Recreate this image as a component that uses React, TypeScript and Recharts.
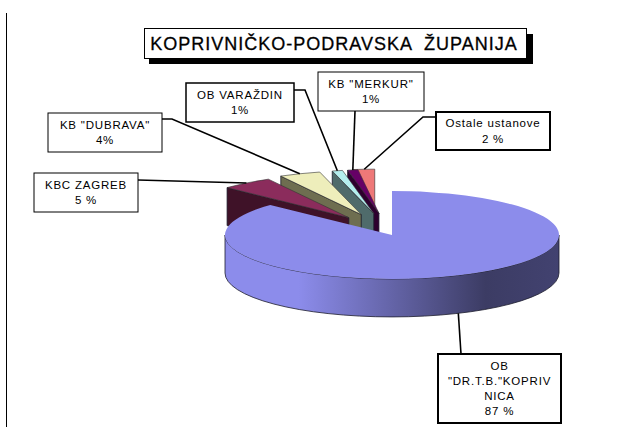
import { PieChart, Pie, Cell } from "recharts";

// counter-clockwise from 12 o'clock, so each slice covers the wall of the one before it
const categories = ["Ostale ustanove", 'KB "MERKUR"', "OB VARAŽDIN", 'KB "DUBRAVA"', "KBC ZAGREB", "OB DR.T.B. KOPRIVNICA"];
const shares = [2, 1, 1, 4, 5, 87];
const shareLabels = ["2 %", "1%", "1%", "4%", "5 %", "87 %"];
const labelLines = [
  ["Ostale ustanove"],
  ['KB "MERKUR"'],
  ["OB VARAŽDIN"],
  ['KB "DUBRAVA"'],
  ["KBC ZAGREB"],
  ["OB", '"DR.T.B."KOPRIV', "NICA"],
];

const TOP_COLORS = ["#ee7878", "#660066", "#b4eeee", "#eeeebb", "#8b2c5c", "#8c8ceb"];
const WALL_COLORS = ["#6b3333", "#2e002e", "#4f6b6b", "#6e6e50", "#3f1228", "url(#mainWall)"];

const TILT = 0.263;
const DEPTH = 38;
const EXPLODE = 0.5;
// the old picture's perspective doesn't quite follow a radial explode
const NUDGE_X = [-12, 0, 0, 0, 8, 0];

// where each callout box sits and how its leader leaves it
const BOXES = [
  { x: 436, y: 112, w: 114, h: 38, sw: 2, lead: [[436, 117], [423, 117]] },
  { x: 318, y: 72, w: 106, h: 39, sw: 1, lead: [[355, 111]] },
  { x: 186, y: 83, w: 108, h: 39, sw: 1.5, lead: [[294, 90], [305, 90]] },
  { x: 48, y: 113, w: 114, h: 39, sw: 1, lead: [[162, 119], [172, 119]] },
  { x: 34, y: 173, w: 104, h: 39, sw: 1, lead: [[138, 180]] },
  { x: 438, y: 354, w: 123, h: 69, sw: 2, lead: [[461, 354]] },
];

const rad = (a: number) => (a * Math.PI) / 180;

const apexOf = (p: any) => {
  const isMain = p.index === categories.length - 1;
  const e = isMain ? 0 : EXPLODE * p.outerRadius;
  return {
    x: p.cx + e * Math.cos(rad(p.midAngle)) + NUDGE_X[p.index],
    y: p.cy - e * TILT * Math.sin(rad(p.midAngle)),
  };
};

const rimPoint = (p: any, apex: { x: number; y: number }, angle: number) => ({
  x: apex.x + p.outerRadius * Math.cos(rad(angle)),
  y: apex.y - p.outerRadius * TILT * Math.sin(rad(angle)),
});

function Slice3D(p: any) {
  const isMain = p.index === categories.length - 1;
  const apex = apexOf(p);
  const rx = p.outerRadius;
  const ry = rx * TILT;
  const a = rimPoint(p, apex, p.startAngle);
  const b = rimPoint(p, apex, p.endAngle);
  const large = Math.abs(p.startAngle - p.endAngle) > 180 ? 1 : 0;
  const top = `M${apex.x},${apex.y} L${a.x},${a.y} A${rx},${ry} 0 ${large} 0 ${b.x},${b.y} Z`;

  let wall;
  if (isMain) {
    const right = rimPoint(p, apex, 0);
    const left = rimPoint(p, apex, 180);
    wall = `M${right.x},${right.y} A${rx},${ry} 0 0 1 ${left.x},${left.y} L${left.x},${left.y + DEPTH} A${rx},${ry} 0 0 0 ${right.x},${right.y + DEPTH} Z`;
  } else {
    wall = `M${b.x},${b.y} L${apex.x},${apex.y} L${apex.x},${apex.y + DEPTH} L${b.x},${b.y + DEPTH} Z`;
  }

  return (
    <g>
      <path d={wall} fill={WALL_COLORS[p.index]} stroke="#1c1c2c" strokeWidth={0.8} />
      <path d={top} fill={TOP_COLORS[p.index]} stroke={isMain ? "none" : "#333"} strokeWidth={isMain ? 0 : 0.6} />
    </g>
  );
}

function LeaderLine(p: any) {
  const isMain = p.index === categories.length - 1;
  const end = rimPoint(p, apexOf(p), p.midAngle);
  const pts = [...BOXES[p.index].lead, [end.x, end.y + (isMain ? DEPTH : 0)]];
  return <polyline points={pts.map((q) => q.join(",")).join(" ")} fill="none" stroke="#000" strokeWidth={1.6} />;
}

function CalloutBox(p: any) {
  const box = BOXES[p.index];
  const lines = [...labelLines[p.index], shareLabels[p.index]];
  const lineHeight = 15.3;
  const firstY = box.y + box.h / 2 - ((lines.length - 1) * lineHeight) / 2 + 4;
  return (
    <g>
      <rect x={box.x} y={box.y} width={box.w} height={box.h} fill="#fff" stroke="#000" strokeWidth={box.sw} />
      <text textAnchor="middle" fontFamily="Liberation Sans" fontSize={11.5} letterSpacing={0.8} fill="#000">
        {lines.map((line, i) => (
          <tspan key={i} x={box.x + box.w / 2} y={firstY + i * lineHeight}>
            {line}
          </tspan>
        ))}
      </text>
    </g>
  );
}

export default function App() {
  const data = categories.map((name, i) => ({ name, value: shares[i] }));

  return (
    <div style={{ position: "absolute", left: 0, top: 0, width: 620, height: 427 }}>
      <PieChart width={620} height={427} margin={{ top: 0, right: 0, bottom: 0, left: 0 }}>
        <defs>
          <linearGradient id="mainWall" x1="0" y1="0" x2="1" y2="0">
            <stop offset="0.22" stopColor="#8c8ceb" />
            <stop offset="0.78" stopColor="#3c3c64" />
            <stop offset="1" stopColor="#424270" />
          </linearGradient>
        </defs>
        <line x1={6.5} y1={13} x2={6.5} y2={427} stroke="#000" strokeWidth={1} />
        <rect x={149} y={34} width={384} height={30} fill="#000" />
        <rect x={144.5} y={28.5} width={382} height={30} fill="#fff" stroke="#000" strokeWidth={1} />
        <text
          x={334}
          y={50}
          textAnchor="middle"
          fontFamily="Liberation Sans"
          fontSize={18}
          letterSpacing={1}
          fill="#000"
          stroke="#000"
          strokeWidth={0.3}
          style={{ whiteSpace: "pre" }}
        >
          KOPRIVNIČKO-PODRAVSKA  ŽUPANIJA
        </text>
        <Pie
          data={data}
          dataKey="value"
          nameKey="name"
          cx={392}
          cy={235}
          outerRadius={167}
          startAngle={90}
          endAngle={450}
          stroke="none"
          shape={Slice3D}
          label={CalloutBox}
          labelLine={LeaderLine}
          isAnimationActive={false}
        >
          {data.map((d, i) => (
            <Cell key={d.name} fill={TOP_COLORS[i]} />
          ))}
        </Pie>
      </PieChart>
    </div>
  );
}
